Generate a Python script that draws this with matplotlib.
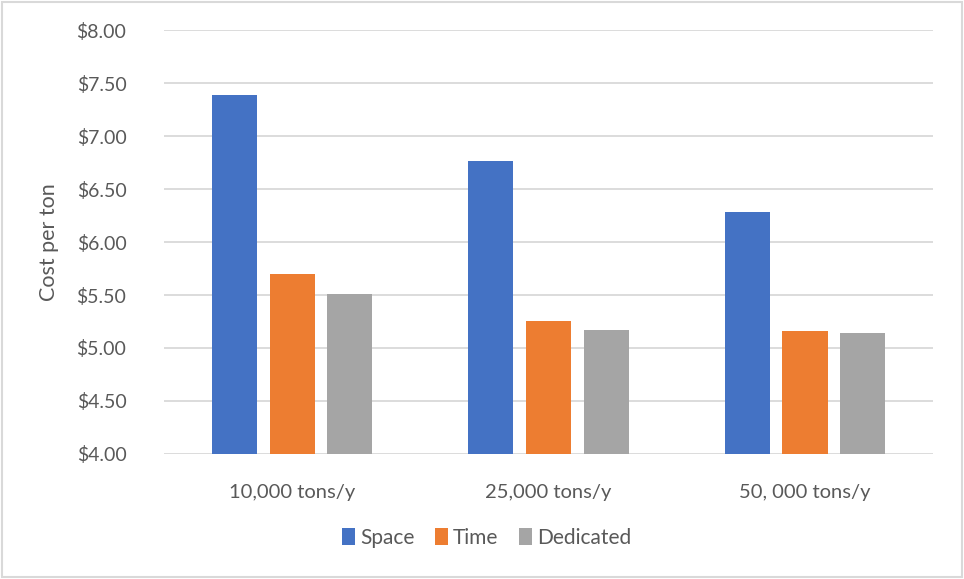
import matplotlib
matplotlib.use("Agg")
import matplotlib.pyplot as plt
import numpy as np
from matplotlib.patches import Rectangle

categories = ["10,000 tons/y", "25,000 tons/y", "50, 000 tons/y"]
series_names = ["Space", "Time", "Dedicated"]
space = [7.39, 6.76, 6.28]
time_vals = [5.70, 5.25, 5.16]
dedicated = [5.51, 5.17, 5.14]
y_ticks = [4.0, 4.5, 5.0, 5.5, 6.0, 6.5, 7.0, 7.5, 8.0]

colors = ["#4472C4", "#ED7D31", "#A5A5A5"]
text_color = "#595959"

plt.rcParams["font.family"] = ["Lato", "DejaVu Sans"]

fig = plt.figure(figsize=(9.64, 5.79), dpi=100)
ax = fig.add_axes([0.170, 0.216, 0.798, 0.732])

x = np.arange(len(categories))
offset = 0.225
width = 0.176
base = 4.0
handles = []
for j, (vals, name, c) in enumerate(zip([space, time_vals, dedicated], series_names, colors)):
    heights = [v - base for v in vals]
    h = ax.bar(x + (j - 1) * offset, heights, width, bottom=base, color=c, label=name, zorder=3)
    handles.append(h)

ax.set_xlim(-0.5, len(categories) - 0.5)
ax.set_ylim(4.0, 8.0)
ax.set_yticks(y_ticks)
ax.set_yticklabels([f"${v:.2f}" for v in y_ticks])
ax.set_xticks(x)
ax.set_xticklabels(categories)
ax.grid(axis="y", color="#D9D9D9", linewidth=1.3, zorder=0)
for s in ax.spines.values():
    s.set_visible(False)
ax.tick_params(axis="both", length=0, labelsize=14.5, colors=text_color)
ax.tick_params(axis="y", labelsize=14, pad=27)
ax.tick_params(axis="x", pad=22)
ax.set_ylabel("Cost per ton", fontsize=15.5, color=text_color)
ax.yaxis.set_label_coords(-0.136, 0.5)

leg = fig.legend(handles=handles, loc="center", bbox_to_anchor=(0.505, 0.071), ncol=3, frameon=False,
                 fontsize=15, handlelength=0.6, handleheight=0.9, handletextpad=0.25,
                 columnspacing=1.0)
for t in leg.get_texts():
    t.set_color(text_color)

fig.patches.append(Rectangle((0.002, 0.003), 0.996, 0.994, transform=fig.transFigure,
                             fill=False, edgecolor="#D9D9D9", linewidth=1.5))

fig.savefig("out.png", dpi=100)
